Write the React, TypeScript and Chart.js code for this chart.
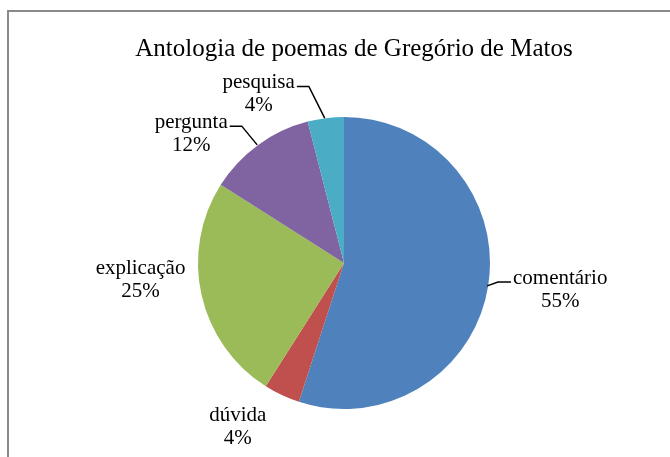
import React, { useEffect, useRef } from "react";
import { Chart, registerables } from "chart.js";

Chart.register(...registerables);

const TITLE = "Antologia de poemas de Gregório de Matos";
const categories = ["comentário", "dúvida", "explicação", "pergunta", "pesquisa"];
const values = [55, 4, 25, 12, 4];
const colors = ["#4F81BD", "#C0504D", "#9BBB59", "#8064A2", "#4BACC6"];

// label placement relative to each slice's outer mid-point
const labelOffsets = [
  { dx: 72, dy: 4, leader: "left" },
  { dx: -44, dy: 32, leader: "" },
  { dx: -61, dy: -15, leader: "" },
  { dx: -67, dy: -11, leader: "right" },
  { dx: -67, dy: -24, leader: "right" },
];

const FONT = '"Liberation Serif", "Times New Roman", serif';

const decorPlugin = {
  id: "decor",
  beforeDraw(chart: any) {
    const ctx = chart.ctx;
    ctx.save();
    ctx.fillStyle = "#ffffff";
    ctx.fillRect(0, 0, chart.width, chart.height);
    ctx.strokeStyle = "#8a8a8a";
    ctx.lineWidth = 2;
    ctx.strokeRect(8, 11, chart.width + 20, chart.height + 20);
    ctx.restore();
  },
  afterDraw(chart: any) {
    const ctx = chart.ctx;
    ctx.save();
    ctx.fillStyle = "#000";
    ctx.textAlign = "center";
    ctx.textBaseline = "middle";
    ctx.font = `25px ${FONT}`;
    const area = chart.chartArea;
    ctx.fillText(TITLE, (area.left + area.right) / 2 + 10, 49);

    const meta = chart.getDatasetMeta(0);
    const data = chart.data.datasets[0].data as number[];
    const total = data.reduce((a, b) => a + b, 0);
    ctx.font = `21px ${FONT}`;
    const lineGap = 23.5;
    meta.data.forEach((arc: any, i: number) => {
      const p = arc.getProps(["x", "y", "startAngle", "endAngle", "outerRadius"], true);
      const mid = (p.startAngle + p.endAngle) / 2;
      const ex = p.x + Math.cos(mid) * p.outerRadius;
      const ey = p.y + Math.sin(mid) * p.outerRadius;
      const off = labelOffsets[i];
      const lx = ex + off.dx;
      const ly = ey + off.dy;
      const l1 = chart.data.labels[i];
      const l2 = Math.round((data[i] / total) * 100) + "%";
      const y1 = ly - lineGap / 2;
      const y2 = ly + lineGap / 2;
      ctx.fillStyle = "#000";
      ctx.fillText(l1, lx, y1);
      ctx.fillText(l2, lx, y2);
      if (off.leader) {
        const w = ctx.measureText(l1).width;
        ctx.strokeStyle = "#000";
        ctx.lineWidth = 1.5;
        ctx.beginPath();
        const ly1 = y1 + 4;
        if (off.leader === "right") {
          const sx = lx + w / 2 + 2;
          ctx.moveTo(sx, ly1);
          ctx.lineTo(sx + 12, ly1);
        } else {
          const sx = lx - w / 2 - 2;
          ctx.moveTo(sx, ly1);
          ctx.lineTo(sx - 13, ly1);
        }
        ctx.lineTo(ex - 1, ey);
        ctx.stroke();
      }
    });
    ctx.restore();
  },
};

export default function App() {
  const ref = useRef<HTMLCanvasElement | null>(null);
  useEffect(() => {
    if (!ref.current) return;
    const chart = new Chart(ref.current, {
      type: "pie",
      data: {
        labels: categories,
        datasets: [
          {
            data: values,
            backgroundColor: colors,
            borderWidth: 0,
          },
        ],
      },
      options: {
        responsive: false,
        animation: false,
        events: [],
        layout: { padding: { left: 198, right: 180, top: 117, bottom: 48 } },
        plugins: {
          legend: { display: false },
          tooltip: { enabled: false },
          title: { display: false },
        },
      },
      plugins: [decorPlugin],
    });
    return () => chart.destroy();
  }, []);
  return (
    <div style={{ position: "fixed", left: 0, top: 0, width: 670, height: 457, background: "#fff" }}>
      <canvas ref={ref} width={670} height={457} style={{ width: 670, height: 457, display: "block" }} />
    </div>
  );
}
